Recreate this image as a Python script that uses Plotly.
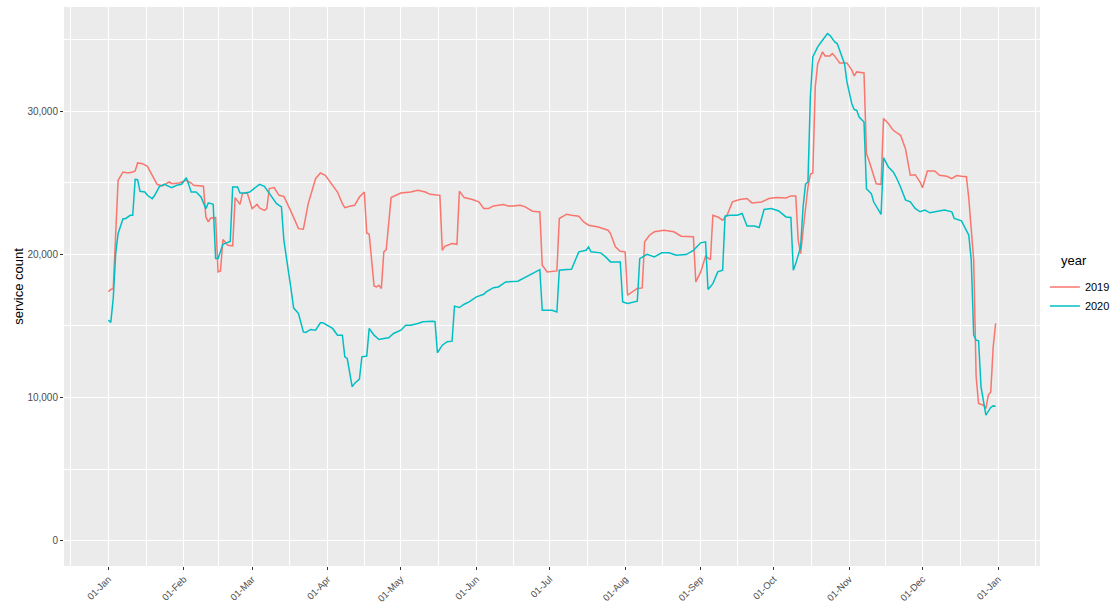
import pandas as pd
import plotly.graph_objects as go

# ---- data (day of year offset from 01-Jan, 7-day service count) ----
day_2019 = [0, 1, 2, 4, 6, 8, 10, 11, 12, 14, 16, 18, 20, 22, 25, 26, 29, 32, 34, 35, 39, 40, 41, 42, 44,
            45, 46, 47, 49, 51, 52, 54, 55, 57, 59, 61, 62, 64, 65, 66, 68, 70, 72, 75, 78, 80, 82, 85, 87,
            89, 91, 94, 96, 97, 99, 101, 103, 105, 106, 107, 109, 110, 111, 112, 113, 114, 116, 118, 120,
            124, 127, 130, 132, 136, 137, 138, 141, 143, 144, 146, 149, 152, 154, 156, 158, 162, 164, 166,
            169, 171, 174, 177, 178, 180, 184, 185, 188, 190, 193, 195, 197, 201, 205, 206, 208, 210, 212,
            213, 215, 217, 219, 220, 222, 224, 228, 232, 235, 238, 240, 241, 243, 245, 247, 248, 250, 252,
            254, 256, 259, 262, 264, 268, 271, 274, 278, 280, 282, 283, 284, 285, 287, 288, 289, 290, 291,
            293, 294, 296, 297, 298, 300, 303, 305, 306, 307, 310, 311, 312, 314, 315, 317, 318, 320, 322,
            325, 327, 329, 331, 333, 334, 336, 339, 341, 344, 346, 348, 350, 352, 353, 355, 356, 357, 359,
            360, 361, 362, 363, 364]
count_2019 = [17380, 17540, 17600, 25170, 25750, 25680, 25750, 25820, 26380, 26330, 26140, 25520, 24890,
              24770, 25050, 24930, 24980, 25170, 24980, 24820, 24750, 22610, 22260, 22540, 22560, 18770,
              18840, 21030, 20630, 20590, 23960, 23490, 24240, 24280, 23190, 23490, 23240, 23070, 23190,
              24590, 24660, 24120, 24050, 22960, 21790, 21750, 23540, 25280, 25680, 25520, 25050, 24350,
              23540, 23260, 23350, 23420, 24000, 24350, 21490, 21400, 17790, 17720, 17840, 17610, 20170,
              20330, 23960, 24120, 24280, 24350, 24470, 24350, 24190, 24120, 20280, 20560, 20750, 20700,
              24400, 23960, 23840, 23660, 23200, 23200, 23380, 23480, 23380, 23380, 23430, 23310, 23010,
              22960, 19240, 18770, 18840, 22500, 22800, 22730, 22660, 22260, 22030, 21910, 21680, 21450,
              20520, 20210, 20170, 17140, 17380, 17610, 17650, 20870, 21330, 21570, 21680, 21570, 21260,
              21220, 21220, 18070, 18770, 19860, 19630, 22730, 22610, 22380, 22800, 23660, 23830, 23900,
              23590, 23660, 23900, 23970, 23940, 24080, 24070, 21000, 20050, 21680, 24700, 25590, 25680,
              31690, 33320, 34140, 33860, 33860, 34020, 33840, 33370, 33370, 32860, 32460, 32740, 32670,
              27030, 26570, 25400, 24930, 24890, 29480, 29130, 28660, 28310, 27380, 25520, 25560, 25050,
              24650, 25820, 25820, 25520, 25450, 25280, 25500, 25450, 25420, 23900, 19590, 11440, 9580,
              9460, 9230, 10160, 10390, 13540, 15170]

day_2020 = [0, 1, 2, 3, 4, 6, 7, 9, 10, 11, 12, 13, 15, 16, 18, 19, 21, 23, 26, 28, 30, 32, 34, 36, 38,
            40, 41, 43, 44, 45, 47, 49, 50, 51, 53, 54, 56, 58, 60, 62, 64, 66, 69, 71, 72, 75, 76, 78,
            80, 81, 83, 85, 87, 88, 90, 92, 94, 96, 97, 98, 100, 101, 103, 104, 106, 107, 109, 111, 113,
            115, 117, 120, 122, 124, 127, 129, 133, 134, 135, 137, 139, 141, 142, 144, 146, 148, 151, 154,
            155, 158, 160, 163, 168, 170, 173, 175, 177, 178, 180, 182, 184, 185, 188, 190, 193, 196, 197,
            198, 202, 204, 206, 210, 211, 213, 217, 218, 221, 224, 227, 230, 233, 237, 240, 243, 245, 246,
            248, 250, 252, 253, 255, 258, 260, 262, 265, 267, 269, 272, 275, 278, 280, 281, 282, 284, 285,
            286, 287, 288, 289, 291, 292, 294, 295, 296, 298, 299, 301, 302, 303, 305, 306, 307, 308, 310,
            311, 313, 314, 316, 317, 318, 320, 322, 323, 325, 327, 329, 331, 333, 335, 337, 340, 343, 346,
            347, 350, 351, 353, 354, 355, 356, 357, 358, 359, 360, 362, 363, 364]
count_2020 = [15400, 15240, 16910, 20050, 21450, 22490, 22490, 22720, 22720, 25240, 25210, 24400, 24350,
              24120, 23890, 24120, 24750, 24890, 24660, 24820, 24890, 25350, 24350, 24350, 24000, 23190,
              23590, 23490, 19700, 19700, 20700, 20860, 20890, 24700, 24700, 24280, 24280, 24350, 24590,
              24890, 24750, 24280, 23540, 23310, 20980, 17490, 16260, 15860, 14580, 14540, 14750, 14700,
              15210, 15210, 15000, 14820, 14350, 14350, 12840, 12720, 10750, 10980, 11280, 12840, 12890,
              14820, 14350, 14050, 14120, 14170, 14470, 14700, 15050, 15050, 15170, 15280, 15330, 15300,
              13120, 13650, 13890, 13930, 16380, 16280, 16510, 16680, 17030, 17210, 17370, 17670, 17720,
              18070, 18120, 18300, 18610, 18770, 18930, 16090, 16090, 16090, 15970, 18890, 18930, 18960,
              20170, 20280, 20520, 20170, 20100, 19820, 19470, 19470, 16670, 16560, 16720, 19700, 20000,
              19820, 20100, 20100, 19930, 19980, 20280, 20800, 20870, 17540, 17950, 18770, 18890, 22660,
              22730, 22730, 22850, 21980, 21980, 21870, 23130, 23200, 23030, 22610, 22570, 18890, 19350,
              20520, 23300, 24900, 25050, 30990, 33790, 34490, 34720, 35190, 35420, 35300, 34840, 34720,
              33740, 33320, 32040, 30520, 30110, 30060, 29590, 29240, 24580, 24240, 23650, 23070, 22790,
              26750, 26100, 25750, 25450, 24700, 23800, 23670, 23210, 22970, 23090, 22900, 22970, 23090,
              22970, 22510, 22340, 22040, 21340, 19590, 14350, 14000, 13960, 10740, 9810, 8760, 9300,
              9410, 9390]

years = ["2019", "2020"]
colors = ["#F8766D", "#00BFC4"]
legend_title = "year"
y_label = "service count"

base = pd.Timestamp("2019-01-01")


def to_dates(days):
    return base + pd.to_timedelta(days, unit="D")


fig = go.Figure()
for name, d, v, c in zip(years, [day_2019, day_2020], [count_2019, count_2020], colors):
    fig.add_trace(go.Scatter(x=to_dates(d), y=v, mode="lines", name=name,
                             line=dict(color=c, width=1.5)))

# axis ranges with ggplot-like 5% expansion
span = 364
x_lo = base + pd.Timedelta(days=-0.05 * span)
x_hi = base + pd.Timedelta(days=span + 0.05 * span)
y_top = 35500
y_range = [-0.05 * y_top, 1.05 * y_top]

month_starts = pd.date_range("2018-12-01", "2020-02-01", freq="MS")
mids = [month_starts[i] + (month_starts[i + 1] - month_starts[i]) / 2 for i in range(len(month_starts) - 1)]

font_family = "Liberation Sans, Arial, sans-serif"

fig.update_layout(
    width=1111, height=605,
    margin=dict(l=64, r=71, t=7, b=39, autoexpand=False),
    paper_bgcolor="white",
    plot_bgcolor="#EBEBEB",
    font=dict(family=font_family, size=11, color="#4D4D4D"),
    showlegend=True,
    legend=dict(x=1.005, xanchor="left", y=0.525, yanchor="top",
                font=dict(size=11, color="black"), bgcolor="rgba(0,0,0,0)",
                itemwidth=30, tracegroupgap=0),
    annotations=[dict(text=legend_title, xref="paper", yref="paper", x=1.0195, y=0.53,
                      xanchor="left", yanchor="bottom", showarrow=False,
                      font=dict(size=13, color="black"))],
)

fig.update_xaxes(
    type="date", range=[x_lo, x_hi],
    tick0="2019-01-01", dtick="M1", tickformat="%d-%b", tickangle=-45,
    ticks="outside", ticklen=3, tickcolor="#333333", tickwidth=1,
    tickfont=dict(size=9.5, color="#4D4D4D"),
    showgrid=True, gridcolor="white", gridwidth=1.4,
    minor=dict(tickmode="array", tickvals=mids, showgrid=True, gridcolor="white", gridwidth=0.6, ticks=""),
    zeroline=False, showline=False,
)
fig.update_yaxes(
    range=y_range, dtick=10000, tick0=0, tickformat=",d",
    ticks="outside", ticklen=3, tickcolor="#333333", tickwidth=1,
    tickfont=dict(size=10, color="#4D4D4D"),
    showgrid=True, gridcolor="white", gridwidth=1.4,
    minor=dict(dtick=5000, showgrid=True, gridcolor="white", gridwidth=0.6, ticks=""),
    zeroline=False, showline=False,
    title=dict(text=y_label, font=dict(size=13, color="black"), standoff=0),
)

fig.write_html("out.html", config={"displayModeBar": False},
               post_script="document.body.style.margin='0px';")
